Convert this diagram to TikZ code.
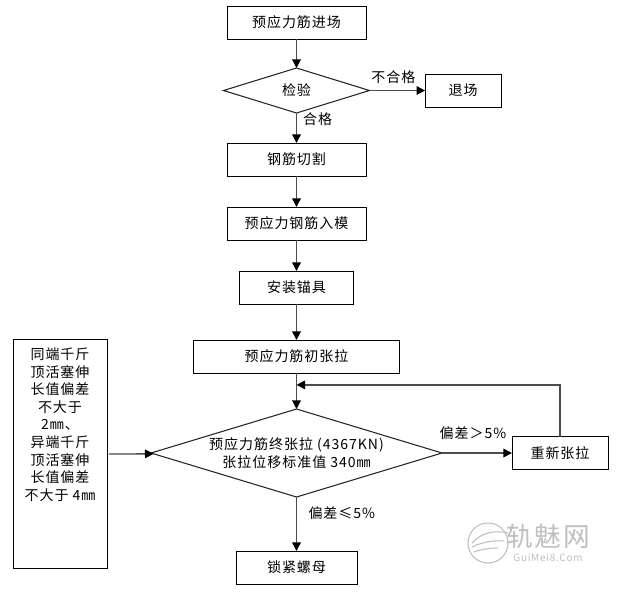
\documentclass[tikz,border=0pt]{standalone}
\usepackage{fontspec}
\setmainfont{Noto Sans CJK SC}[LetterSpace=7]
\usetikzlibrary{positioning,shapes.geometric,arrows.meta,calc}

\begin{document}
\begin{tikzpicture}[
    x=0.75pt,
    y=0.75pt,
    >={Triangle[length=6.5pt,width=6.5pt,color=black]},
    font=\fontsize{10.5}{13.2}\selectfont,
    stepbox/.style={
        rectangle,
        draw=black,
        line width=0.7pt,
        fill=white,
        minimum height=24.75pt,
        inner sep=0pt,
        outer sep=0pt
    },
    check/.style={
        diamond,
        draw=black!85,
        line width=0.8pt,
        aspect=3.3,
        inner sep=0pt,
        outer sep=0pt
    },
    link/.style={->, draw=black!70, line width=1pt},
    tag/.style={inner sep=0pt, outer sep=0pt},
    logomark/.style={draw=none, text=black!25},
    logoline/.style={draw=black!25, line width=0.8pt}
]
    \useasboundingbox (0,0) rectangle (617,-594);

    % Main column
    \node[stepbox, minimum width=104.25pt] (arrive) at (296.5,-22.5) {预应力筋进场};
    \node[check, minimum width=109.5pt, minimum height=33.75pt] (inspect) [below=21.75pt of arrive] {检验};
    \node[stepbox, minimum width=104.25pt] (cutting) [below=22.5pt of inspect] {钢筋切割};
    \node[stepbox, minimum width=104.25pt] (mould) [below=23.25pt of cutting] {预应力钢筋入模};
    \node[stepbox, minimum width=85.5pt] (anchor) [below=23.25pt of mould] {安装锚具};
    \node[stepbox, minimum width=154.5pt] (initial) [below=27pt of anchor] {预应力筋初张拉};
    \node[check, minimum width=218.25pt, minimum height=66pt, align=center] (final) [below=27pt of initial] {预应力筋终张拉 (4367KN)\\张拉位移标准值 340㎜};
    \node[stepbox, minimum width=90.75pt] (nut) [below=40.5pt of final] {锁紧螺母};

    % Side boxes
    \node[stepbox, minimum width=57pt] (reject) [right=41.75pt of inspect] {退场};
    \node[stepbox, minimum width=72pt] (redo) [right=52.5pt of final] {重新张拉};
    \node[stepbox] (limit) [left=33pt of final, yshift=-1pt] {\parbox[c][171.75pt][t]{70.5pt}{\vspace*{6pt}\centering 同端千斤\\顶活塞伸\\长值偏差\\不大于\\2㎜、\\异端千斤\\顶活塞伸\\长值偏差\\不大于 4㎜}};

    \coordinate (merge) at ($(initial.south)!0.33!(final.north)$);

    % Transitions
    \draw[link] (arrive) -- (inspect);
    \draw[link] (inspect) -- (cutting) node[tag, pos=0.2, right=5pt] (pass) {合格};
    \draw[link] (inspect) -- (reject) node[tag, midway, above=5pt, xshift=-3pt] (fail) {不合格};
    \draw[link] (cutting) -- (mould);
    \draw[link] (mould) -- (anchor);
    \draw[link] (anchor) -- (initial);
    \draw[link] (initial) -- (final);
    \draw[link, shorten <=1.5pt] (limit) -- (final);
    \draw[link] (final) -- (redo) node[tag, midway, above=10pt, xshift=-3pt] (over) {偏差＞5\%};
    \draw[link] (final) -- (nut) node[tag, pos=0.3, right=9pt] (under) {偏差≤5\%};
    \draw[link] (redo) |- (merge);

    % Watermark
    \draw[logoline] (488,-543) circle (20);
    \draw[logoline] (472,-543) .. controls (482,-532) and (495,-530) .. (508,-533);
    \draw[logoline] (472,-547) .. controls (482,-542) and (495,-540) .. (504,-541);
    \draw[logoline] (474,-552) .. controls (482,-549) and (490,-548) .. (498,-548);
    \node[logomark, font=\fontsize{20}{20}\selectfont, inner sep=0pt] (logotext) at (548,-536) {轨魅网};
    \node[logomark, font=\fontsize{7.5}{8}\selectfont, inner sep=0pt] (logourl) at (548,-558) {GuiMei8.Com};
\end{tikzpicture}
\end{document}
